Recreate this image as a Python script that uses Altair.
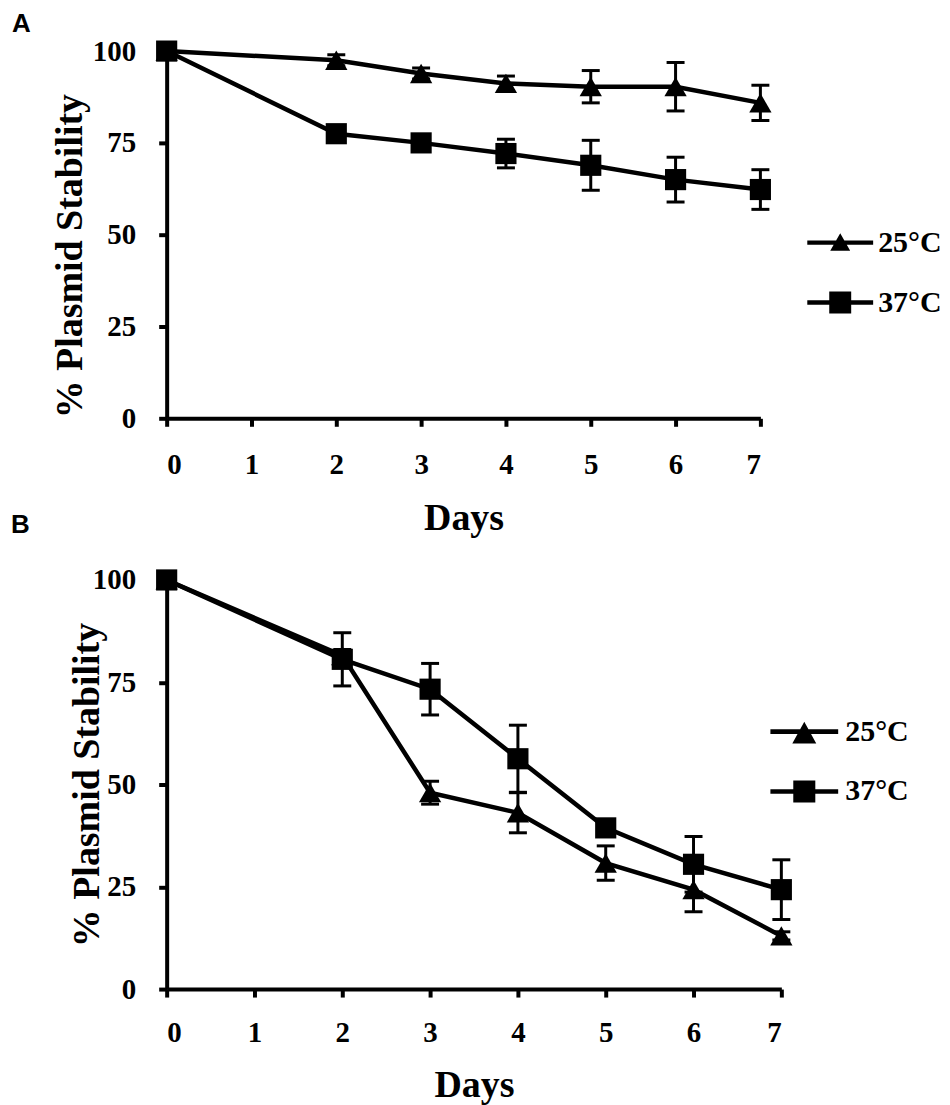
import altair as alt
import pandas as pd

days = [0, 2, 3, 4, 5, 6, 7]
series = ["25°C", "37°C"]

a_25 = [100, 97.5, 93.9, 91.2, 90.3, 90.3, 85.9]
a_25_err = [0, 1.5, 1.5, 2.0, 4.4, 6.6, 4.8]
a_37 = [100, 77.5, 75.0, 72.1, 68.9, 65.0, 62.3]
a_37_err = [0, 1.5, 1.5, 3.9, 6.8, 6.1, 5.4]

b_25 = [100, 81.5, 48.0, 43.1, 30.8, 24.3, 13.0]
b_25_err = [0, 1.5, 2.8, 4.9, 4.2, 5.4, 1.0]
b_37 = [100, 80.6, 73.3, 56.3, 39.4, 30.5, 24.3]
b_37_err = [0, 6.5, 6.3, 8.2, 2.0, 6.8, 7.3]

x_ticks = [0, 1, 2, 3, 4, 5, 6, 7]
y_ticks = [0, 25, 50, 75, 100]

SERIF = "Liberation Serif"
SANS = "Liberation Sans"


def frame(v25, e25, v37, e37):
    rows = []
    for s, vals, errs in ((series[0], v25, e25), (series[1], v37, e37)):
        for d, v, e in zip(days, vals, errs):
            rows.append({"day": d, "value": v, "lo": v - e, "hi": v + e, "series": s})
    return pd.DataFrame(rows)


def legend_paths(r_line, half_len, tri_w, tri_top, tri_bot, sq):
    bar = f"M{-half_len},{-r_line}L{half_len},{-r_line}L{half_len},{r_line}L{-half_len},{r_line}Z"
    tri = bar + f" M0,{-tri_top}L{tri_w},{tri_bot}L{-tri_w},{tri_bot}Z"
    squ = bar + f" M{-sq},{-sq}L{sq},{-sq}L{sq},{sq}L{-sq},{sq}Z"
    return [tri, squ]


def panel(df, w, h, letter, title_dx, title_offset, ytitle_x, ytitle_y,
          xlabel_pad, xtitle_pad, leg_x, leg_y, leg_size, paths, row_pad,
          sym_off, lab_off):
    xaxis = alt.Axis(values=x_ticks, title="Days", labelPadding=xlabel_pad,
                     titlePadding=xtitle_pad, labelAngle=0)
    yaxis = alt.Axis(values=y_ticks, title="% Plasmid Stability", labelPadding=23,
                     titleX=ytitle_x, titleY=ytitle_y)
    xs = alt.Scale(domain=[0, 7], nice=False)
    ys = alt.Scale(domain=[0, 100], nice=False)

    def X(f):
        return alt.X(f"{f}:Q", scale=xs, axis=xaxis, title="Days")

    def Y(f):
        return alt.Y(f"{f}:Q", scale=ys, axis=yaxis, title="% Plasmid Stability")

    base = alt.Chart(df)
    lines = base.mark_line(color="black", strokeWidth=4.5).encode(
        x=X("day"), y=Y("value"), detail="series:N")
    err = base.transform_filter("datum.hi > datum.lo")
    rules = err.mark_rule(color="black", strokeWidth=3).encode(
        x=X("day"), y=Y("lo"), y2="hi:Q")
    caps = err.transform_fold(["lo", "hi"], as_=["end", "cap"]).mark_tick(
        orient="horizontal", color="black", size=18, thickness=3, opacity=1).encode(
        x=X("day"), y=Y("cap"))
    tri = base.transform_filter(alt.datum.series == series[0]).mark_point(
        shape="triangle-up", filled=True, color="black", size=500, opacity=1).encode(
        x=X("day"), y=Y("value"))
    sq = base.transform_filter(alt.datum.series == series[1]).mark_point(
        shape="square", filled=True, color="black", size=450, opacity=1).encode(
        x=X("day"), y=Y("value"))
    leg = base.transform_filter("false").mark_point(
        filled=True, color="black", opacity=1).encode(
        shape=alt.Shape("series:N",
                        scale=alt.Scale(domain=series, range=paths),
                        legend=alt.Legend(
                            title=None, orient="none", legendX=leg_x, legendY=leg_y,
                            symbolSize=leg_size, symbolFillColor="black",
                            symbolStrokeColor="black", symbolStrokeWidth=0,
                            symbolOpacity=1, symbolOffset=sym_off,
                            labelOffset=lab_off, labelFont=SERIF,
                            labelFontSize=30, labelFontWeight="bold",
                            labelColor="black", labelBaseline="middle",
                            rowPadding=row_pad, padding=0, labelLimit=300)))
    return alt.layer(lines, rules, caps, tri, sq, leg).properties(
        width=w, height=h,
        title=alt.TitleParams(letter, anchor="start", frame="bounds", dx=title_dx,
                              offset=title_offset, font=SANS, fontSize=26,
                              fontWeight="bold", color="black"))


df_a = frame(a_25, a_25_err, a_37, a_37_err)
df_b = frame(b_25, b_25_err, b_37, b_37_err)

chart_a = panel(df_a, 595, 368, "A", -40, 0, -77, 205, 24, 20,
                637, 177, 400, legend_paths(0.22, 3.3, 1.0, 0.95, 0.8, 1.1), 30,
                23, 23)
chart_b = panel(df_b, 616, 410, "B", -58, 28, -60, 205, 22, 19,
                602, 137, 576, legend_paths(0.19, 2.83, 1.0, 0.83, 1.0, 0.92), 30,
                22, 26)

chart = alt.vconcat(chart_a, chart_b, spacing=162, bounds="flush").resolve_scale(
    shape="independent"
).resolve_legend(shape="independent").properties(
    padding={"left": 3, "top": 2, "right": 0, "bottom": 5}
).configure_view(stroke=None).configure_axis(
    domainColor="black", domainWidth=4, tickColor="black", tickWidth=4,
    tickSize=8, labelFont=SERIF, labelFontSize=29, labelFontWeight="bold",
    labelColor="black", titleFont=SERIF, titleFontSize=38, titleFontWeight="bold",
    titleColor="black", grid=False
)

chart.save("out.html", embed_options={"renderer": "svg", "actions": False})
